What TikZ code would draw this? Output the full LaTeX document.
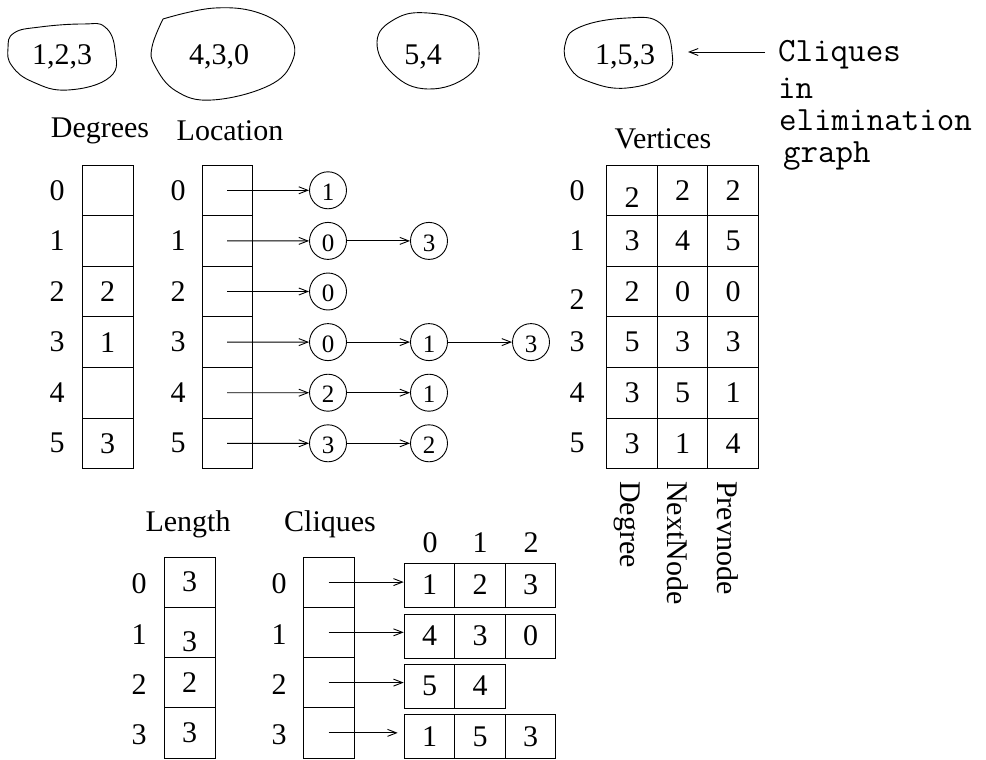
\documentclass[tikz,border=0pt]{standalone}
\usepackage{fontspec}
\setmainfont{Liberation Serif}
\usetikzlibrary{arrows.meta}
\begin{document}
\begin{tikzpicture}[x=1pt,y=-1pt,
  every node/.style={font=\fontsize{30}{33}\selectfont, inner sep=0pt},
  cell/.style={draw, line width=0.9pt, minimum width=51pt, minimum height=50.6pt},
  vcell/.style={draw, line width=0.9pt, minimum width=50.5pt, minimum height=50.6pt},
  lcell/.style={draw, line width=0.9pt, minimum width=51pt, minimum height=50.25pt},
  acell/.style={draw, line width=0.9pt, minimum width=50.7pt, minimum height=44pt},
  circ/.style={draw, circle, line width=0.9pt, minimum size=37pt},
  ctext/.style={font=\fontsize{25}{27}\selectfont},
  arr/.style={line width=0.9pt, -{Straight Barb[length=9pt,width=7pt]}},
  blob/.style={line width=0.9pt},
  btext/.style={anchor=base},
  mono/.style={font=\ttfamily\fontsize{34}{36}\selectfont, anchor=base west},
  vlab/.style={rotate=-90, anchor=west}
]
\useasboundingbox (0,0) rectangle (986,760);

% ---------- clique blobs ----------
\draw[blob] plot[smooth cycle, tension=0.75] coordinates {(8,48) (14,33) (40,27) (83,24) (105,27) (115,50) (110,77) (68,90) (33,82) (12,66)};
\node[btext] (b1) at (62,65) {1,2,3};
\draw[blob] plot[smooth, tension=0.7] coordinates {(163,19) (215,8) (262,14) (290,36) (292,62) (268,86) (212,100) (176,91) (155,66) (152,47) (163,19)};
\node[btext] (b2) at (219,65) {4,3,0};
\draw[blob] plot[smooth cycle, tension=0.75] coordinates {(377,42) (395,19) (428,13) (466,24) (479,50) (468,76) (428,89) (393,74)};
\node[btext] (b3) at (423,65) {5,4};
\draw[blob] plot[smooth cycle, tension=0.75] coordinates {(565,45) (580,27) (627,18) (660,23) (672,52) (665,75) (627,88) (590,82) (570,68)};
\node[btext] (b4) at (625,65) {1,5,3};

\node[mono] (cq) at (778,62) {Cliques};
\node[mono] (cin) at (778,99) {in};
\node[mono] (cel) at (779,131) {elimination};
\node[mono] (cgr) at (783,162) {graph};
\coordinate (aS) at (765,52);
\coordinate (aE) at (688,52);
\draw[arr] (aS) -- (aE);

% ---------- headings ----------
\node (hdeg) at (100,131) {Degrees};
\node (hloc) at (230,131) {Location};
\node (hver) at (663,139) {Vertices};
\node (hlen) at (188,524) {Length};
\node (hcl) at (330,524) {Cliques};

% ---------- Degrees ----------
\foreach \i/\v in {0/,1/,2/2,3/1,4/,5/3} {
  \node[cell] (deg\i) at (107.5,{190.3+50.6*\i}) {\v};
  \node (dl\i) at (57,{190.3+50.6*\i}) {\i};
}

% ---------- Location ----------
\foreach \i in {0,...,5} {
  \node[cell, minimum width=50pt] (loc\i) at (227,{190.3+50.6*\i}) {};
  \node (ll\i) at (178,{190.3+50.6*\i}) {\i};
}

\foreach \n/\x/\y/\t in {c0a/328/190.3/1, c1a/328/240.9/0, c1b/429/240.9/3, c2a/328/291.5/0,
    c3a/328/342.1/0, c3b/429/342.1/1, c3c/531/342.1/3, c4a/328/392.7/2, c4b/429/392.7/1,
    c5a/328/443.3/3, c5b/429/443.3/2} {
  \node[circ] (\n) at (\x,\y) {};
  \node[ctext] (\n t) at (\x,\y+2) {\t};
}

\draw[arr] (loc0.center) -- (c0a);
\draw[arr] (loc1.center) -- (c1a);
\draw[arr] (c1a) -- (c1b);
\draw[arr] (loc2.center) -- (c2a);
\draw[arr] (loc3.center) -- (c3a);
\draw[arr] (c3a) -- (c3b);
\draw[arr] (c3b) -- (c3c);
\draw[arr] (loc4.center) -- (c4a);
\draw[arr] (c4a) -- (c4b);
\draw[arr] (loc5.center) -- (c5a);
\draw[arr] (c5a) -- (c5b);

% ---------- Vertices ----------
\foreach \i/\b/\c in {0/2/2,1/4/5,2/0/0,3/3/3,4/5/1,5/1/4} {
  \node[vcell] (vd\i) at (632,{190.3+50.6*\i}) {};
  \node[vcell] (vn\i) at (682.5,{190.3+50.6*\i}) {\b};
  \node[vcell] (vp\i) at (733,{190.3+50.6*\i}) {\c};
}
\foreach \i/\a/\dy in {0/2/7,1/3/0,2/2/0,3/5/0,4/3/0,5/3/0} {
  \node (vdt\i) at (632,{190.3+50.6*\i+\dy}) {\a};
}
\foreach \i/\dy in {0/0,1/0,2/8,3/0,4/0,5/0} {
  \node (vl\i) at (577,{190.3+50.6*\i+\dy}) {\i};
}
\node[vlab] (tdeg) at (627,481) {Degree};
\node[vlab] (tnext) at (678,481) {NextNode};
\node[vlab] (tprev) at (728,481) {Prevnode};

% ---------- Length ----------
\foreach \i/\v/\dy in {0/3/0,1/3/9,2/2/0,3/3/0} {
  \node[lcell] (len\i) at (189.5,{582.1+50.25*\i}) {};
  \node (lenv\i) at (189.5,{582.1+50.25*\i+\dy}) {\v};
  \node (lenl\i) at (139,{582.1+50.25*\i+2}) {\i};
}

% ---------- Cliques ----------
\foreach \i in {0,...,3} {
  \node[lcell] (cl\i) at (328.5,{582.1+50.25*\i}) {};
  \node (cll\i) at (279,{582.1+50.25*\i+2}) {\i};
}
\node (ix0) at (430,543) {0};
\node (ix1) at (480,543) {1};
\node (ix2) at (531,543) {2};

\node[acell] (a00) at (429.5,585) {1};
\node[acell] (a01) at (480,585) {2};
\node[acell] (a02) at (530.5,585) {3};
\node[acell] (a10) at (429.5,636) {4};
\node[acell] (a11) at (480,636) {3};
\node[acell] (a12) at (530.5,636) {0};
\node[acell] (a20) at (429.5,686) {5};
\node[acell] (a21) at (480,686) {4};
\node[acell] (a30) at (429.5,736.5) {1};
\node[acell] (a31) at (480,736.5) {5};
\node[acell] (a32) at (530.5,736.5) {3};

\draw[arr] (cl0.center) -- (cl0.center -| a00.west);
\draw[arr] (cl1.center) -- (cl1.center -| a10.west);
\draw[arr] (cl2.center) -- (cl2.center -| a20.west);
\draw[arr, shorten >=6pt] (cl3.center) -- (cl3.center -| a30.west);
\end{tikzpicture}
\end{document}
